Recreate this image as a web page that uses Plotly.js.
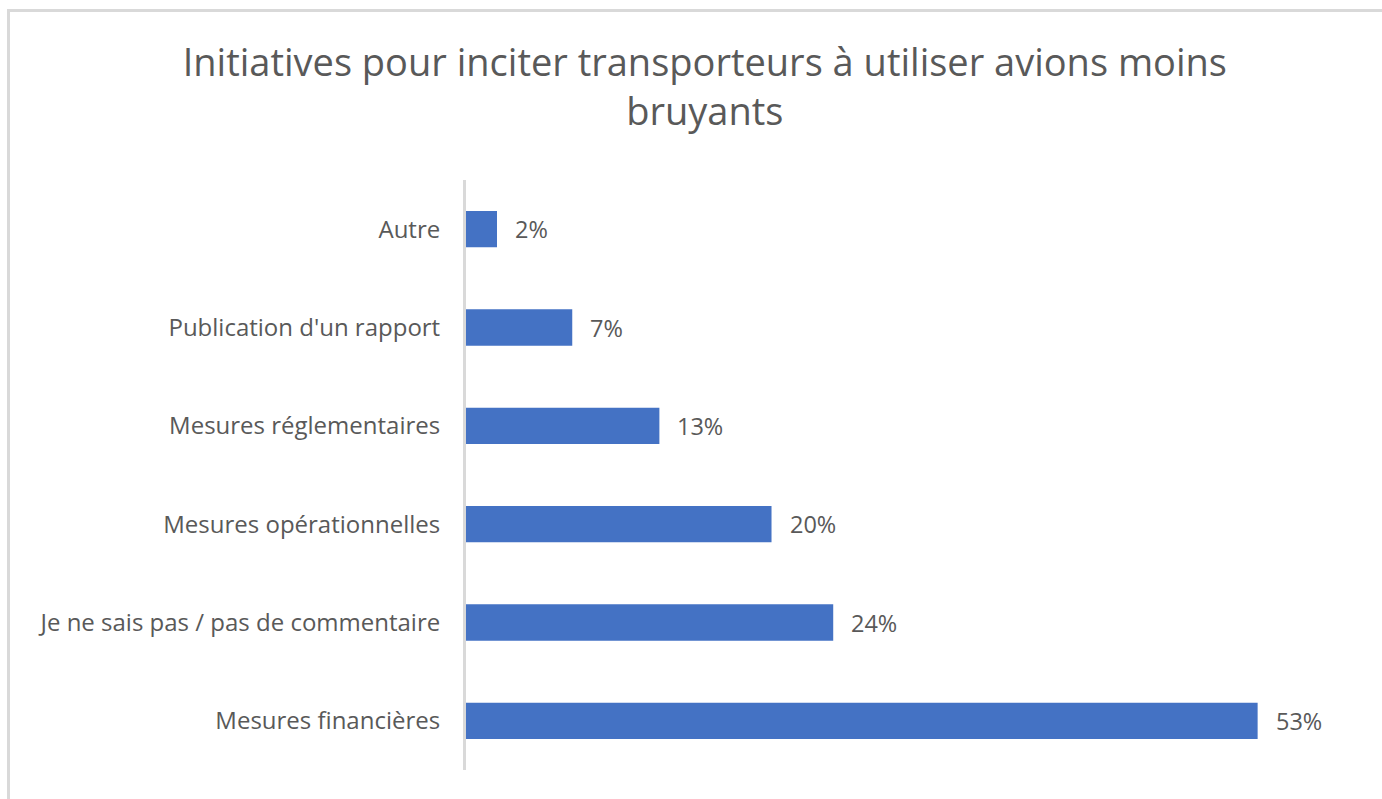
<!DOCTYPE html>
<html>
<head>
<meta charset="utf-8">
<script src="https://cdn.plot.ly/plotly-3.0.1.min.js"></script>
<style>
  html, body { margin: 0; padding: 0; background: #fff; }
  #wrap { position: relative; width: 1382px; height: 799px; overflow: hidden; }
  #frame { position: absolute; left: 7px; top: 9px; right: -10px; bottom: -10px;
           border-left: 3px solid #d9d9d9; border-top: 3px solid #d9d9d9; pointer-events: none; }
  #chart { position: absolute; left: 0; top: 0; width: 1382px; height: 799px; }
</style>
</head>
<body>
<div id="wrap">
  <div id="chart"></div>
  <div id="frame"></div>
</div>
<script>
const categories = [
  "Mesures financières",
  "Je ne sais pas / pas de commentaire",
  "Mesures opérationnelles",
  "Mesures réglementaires",
  "Publication d'un rapport",
  "Autre"
];
const values = [52.6, 24.4, 20.3, 12.85, 7.06, 2.06];
const labels = ["53%", "24%", "20%", "13%", "7%", "2%"];
const titleText = "Initiatives pour inciter transporteurs à utiliser avions moins<br>bruyants";

const textColor = "#595959";
const font = "Open Sans, sans-serif";

const trace = {
  type: "bar",
  orientation: "h",
  y: categories,
  x: values,
  marker: { color: "#4472C4", line: { width: 0 } },
  hoverinfo: "none"
};

const annotations = categories.map((c, i) => ({
  x: values[i], y: c, xref: "x", yref: "y",
  text: labels[i], showarrow: false,
  xanchor: "left", yanchor: "middle", xshift: 16,
  font: { family: font, size: 23.5, color: textColor }
}));

const layout = {
  width: 1382, height: 799,
  paper_bgcolor: "#ffffff", plot_bgcolor: "#ffffff",
  margin: { l: 466, r: 13, t: 180, b: 29 },
  showlegend: false,
  bargap: 0.63,
  title: {
    text: titleText,
    xref: "container", x: 0.51, xanchor: "center",
    yref: "container", y: 1 - 76 / 799, yanchor: "top",
    font: { family: font, size: 38, color: textColor }
  },
  xaxis: {
    range: [0, 60], showgrid: false, zeroline: false, showline: false,
    showticklabels: false, ticks: "", fixedrange: true
  },
  yaxis: {
    type: "category",
    showgrid: false, zeroline: false,
    showline: true, linecolor: "#d9d9d9", linewidth: 3,
    ticks: "outside", ticklen: 18, tickcolor: "rgba(0,0,0,0)",
    tickfont: { family: font, size: 24, color: textColor },
    automargin: false
  },
  annotations: annotations
};

Plotly.newPlot("chart", [trace], layout, { staticPlot: true, displayModeBar: false });
</script>
</body>
</html>
